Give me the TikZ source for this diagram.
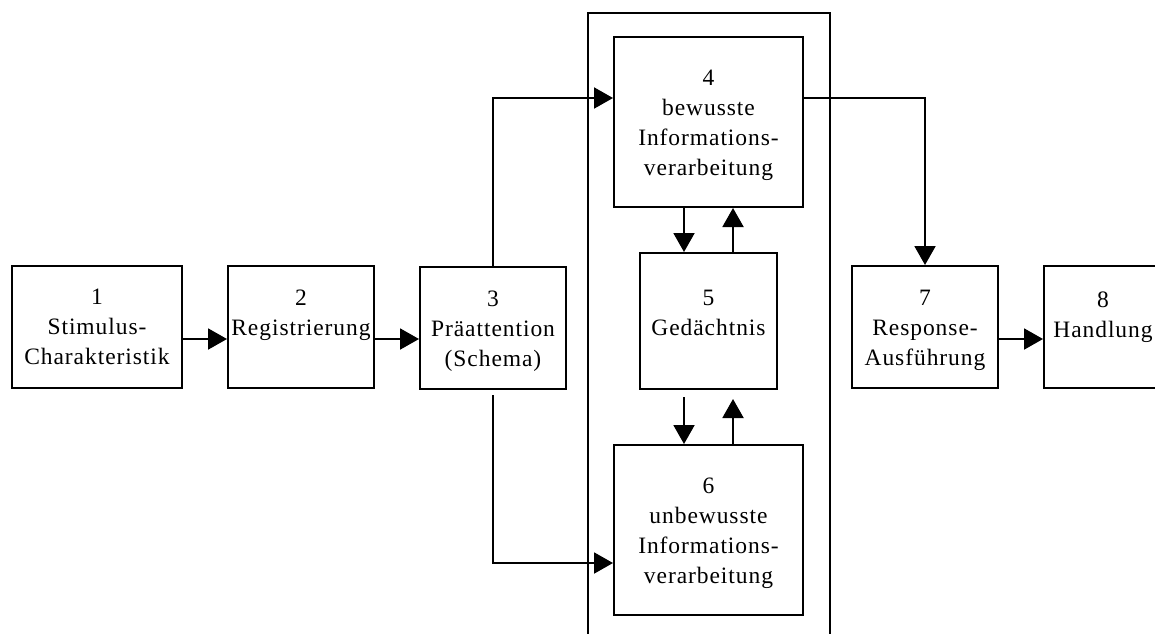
\documentclass[tikz,border=0pt]{standalone}
\usepackage{fontspec}
\setmainfont{Liberation Serif}[LetterSpace=4.0]
\usetikzlibrary{arrows.meta}
\begin{document}
\begin{tikzpicture}[x=1pt,y=-1pt,
  box/.style={draw, line width=2pt, rectangle, inner sep=0pt,
    minimum width=#1},
  lbl/.style={anchor=north, inner sep=0pt, align=center,
    font=\fontsize{23.5}{30}\selectfont},
  arr/.style={line width=2pt, -{Triangle[length=19pt,width=21pt]}}]
\clip (0,0) rectangle (1155,633);

% surrounding frame, open towards the bottom edge
\node[box=242pt, minimum height=700pt] (frame) at (709,363) {};

% process boxes
\node[box=170pt, minimum height=122pt] (b1) at (97,327) {};
\node[box=146pt, minimum height=122pt] (b2) at (301,327) {};
\node[box=146pt, minimum height=122pt] (b3) at (493,328) {};
\node[box=189pt, minimum height=170pt] (b4) at (708.5,122) {};
\node[box=137pt, minimum height=136pt] (b5) at (708.5,321) {};
\node[box=189pt, minimum height=170pt] (b6) at (708.5,530) {};
\node[box=146pt, minimum height=122pt] (b7) at (925,327) {};
\node[box=118pt, minimum height=122pt] (b8) at (1103,327) {};

% box texts
\node[lbl] (t1) at (b1 |- 0,289) {1\\Stimulus-\\Charakteristik};
\node[lbl] (t2) at (b2 |- 0,290) {2\\Registrierung};
\node[lbl] (t3) at (b3 |- 0,291) {3\\Präattention\\(Schema)};
\node[lbl] (t4) at (b4 |- 0,70) {4\\bewusste\\Informations-\\verarbeitung};
\node[lbl] (t5) at (b5 |- 0,290) {5\\Gedächtnis};
\node[lbl] (t6) at (b6 |- 0,478) {6\\unbewusste\\Informations-\\verarbeitung};
\node[lbl] (t7) at (b7 |- 0,290) {7\\Response-\\Ausführung};
\node[lbl] (t8) at (b8 |- 0,292) {8\\Handlung};

% rows of the branching connectors
\coordinate (rowtop) at (0,98);
\coordinate (rowbot) at (0,563);

% connectors
\draw[arr] (b1.east |- 0,339) -- (b2.west |- 0,339);
\draw[arr] (b2.east |- 0,339) -- (b3.west |- 0,339);
\draw[arr] (b3.north) |- (b4.west |- rowtop);
\draw[arr, shorten <=5pt] (b3.south) |- (b6.west |- rowbot);
\draw[arr] ([xshift=-24.5pt]b4.south) -- ([xshift=-24.5pt]b5.north);
\draw[arr] ([xshift=24.5pt]b5.north) -- ([xshift=24.5pt]b4.south);
\draw[arr, shorten <=7pt] ([xshift=-24.5pt]b5.south) -- ([xshift=-24.5pt]b6.north);
\draw[arr, shorten >=9pt] ([xshift=24.5pt]b6.north) -- ([xshift=24.5pt]b5.south);
\draw[arr] (b4.east |- rowtop) -| (b7.north);
\draw[arr] (b7.east |- 0,339) -- (b8.west |- 0,339);
\end{tikzpicture}
\end{document}
